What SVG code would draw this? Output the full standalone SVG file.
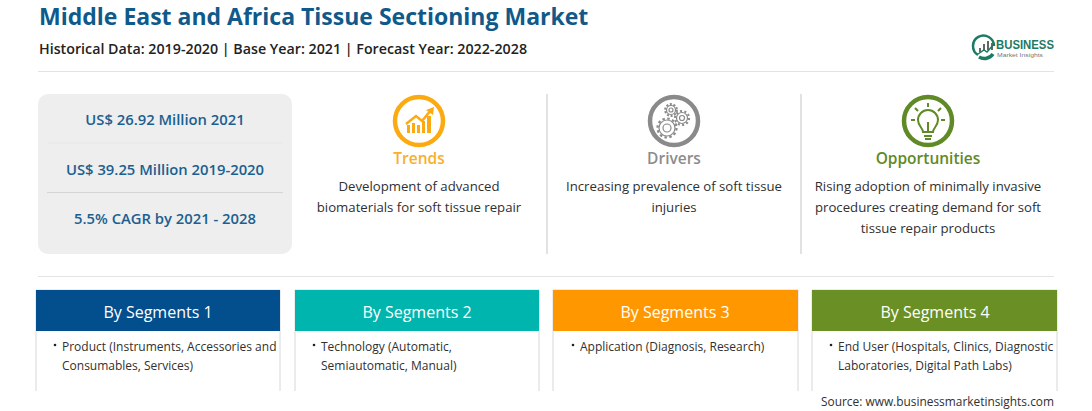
<svg xmlns="http://www.w3.org/2000/svg" width="1092" height="411" viewBox="0 0 1092 411">
<style>
text{font-family:"Open Sans","Noto Sans","Liberation Sans",sans-serif}
.kpi{font-size:14.8px;font-weight:600;fill:#1a6090;text-anchor:middle}
.body{font-size:13.2px;fill:#303030;text-anchor:middle}
.seg{font-size:16px;fill:#fff;text-anchor:middle}
.li{font-size:12px;fill:#303030}
.card{fill:#fff;stroke:#d4d8dc;stroke-width:1}
.rule{stroke:#e4e4e4;stroke-width:1}
.vr{stroke:#d8d8d8;stroke-width:1.5}
.h{font-size:15.5px;font-weight:600;text-anchor:middle}
.gear{fill:none;stroke:#8a8a8a;stroke-width:1.2}
.teeth{fill:none;stroke:#8a8a8a;stroke-width:2.2}
.logo{font-family:"Liberation Sans",Arial,sans-serif}
</style>
<rect width="1092" height="411" fill="#fff"/>
<g id="header">
<text x="39" y="25" font-size="23" font-weight="700" fill="#0f5a8a">Middle East and Africa Tissue Sectioning Market</text>
<text x="39" y="54" font-size="14.25" font-weight="600" fill="#222">Historical Data: 2019-2020 | Base Year: 2021 | Forecast Year: 2022-2028</text>
<line class="rule" x1="38" y1="71.5" x2="1054" y2="71.5"/>
</g>
<g id="logo">
<path d="M978 55a10.500 10.500 0 1 1 16-9" fill="none" stroke="#1d7a63" stroke-width="2.500"/>
<path d="M979 57a10.500 10.500 0 0 0 14-3" fill="none" stroke="#1d7a63" stroke-width="3.500"/>
<path d="M980 52v-4M984 51v-7M988 50v-9M992 50v-7" stroke="#666" stroke-width="2" fill="none"/>
<path d="M978 54l6-4 3 2 7-8" stroke="#1d7a63" stroke-width="1.500" fill="none"/>
<text class="logo" x="996" y="48.700" font-size="12.500" font-weight="700" fill="#1d7a63" textLength="58" lengthAdjust="spacingAndGlyphs">BUSINESS</text>
<text class="logo" x="997" y="56.900" font-size="6" fill="#777" textLength="46" lengthAdjust="spacingAndGlyphs">Market Insights</text>
</g>
<g id="kpis">
<rect x="38" y="94" width="254" height="160" rx="10" fill="#eeeeef"/>
<line x1="48" y1="143" x2="283" y2="143" stroke="#e6e6e6"/>
<line x1="47" y1="192.500" x2="283" y2="192.500" stroke="#d4d4d4"/>
<text class="kpi" x="165" y="125">US$ 26.92 Million 2021</text>
<text class="kpi" x="165" y="175">US$ 39.25 Million 2019-2020</text>
<text class="kpi" x="165" y="224">5.5% CAGR by 2021 - 2028</text>
</g>
<g id="trends">
<circle cx="419" cy="121" r="24" fill="none" stroke="#fbab11" stroke-width="4.500"/>
<path d="M407 133v-8h3v8zM412 133v-10h3v10zM417 133v-8h3v8zM422 133v-12h3v12zM427 133v-17h4v17z" fill="#fbab11"/>
<path d="M406 124l10-8 6 5 9-11" fill="none" stroke="#fbab11" stroke-width="2.500"/>
<path d="M426 110l8-3-1 8z" fill="#fbab11"/>
<text class="h" x="419" y="164" fill="#f9ae2c">Trends</text>
<text class="body" x="419" y="191">Development of advanced</text>
<text class="body" x="419" y="212">biomaterials for soft tissue repair</text>
</g>
<line class="vr" x1="547" y1="94" x2="547" y2="254"/>
<g id="drivers">
<circle cx="674" cy="121" r="24" fill="none" stroke="#8a8a8a" stroke-width="4.500"/>
<circle class="gear" cx="667" cy="128" r="8"/><circle class="gear" cx="667" cy="128" r="4"/>
<circle class="teeth" cx="667" cy="128" r="9.500" stroke-dasharray="2.500 2.470"/>
<circle class="gear" cx="671" cy="110" r="4.500"/><circle class="gear" cx="671" cy="110" r="2"/>
<circle class="teeth" cx="671" cy="110" r="5.800" stroke-dasharray="2 1.640"/>
<circle class="gear" cx="682" cy="118" r="5.500"/><circle class="gear" cx="682" cy="118" r="2.500"/>
<circle class="teeth" cx="682" cy="118" r="7" stroke-dasharray="2 2.400"/>
<text class="h" x="674" y="164" fill="#8c8c8c">Drivers</text>
<text class="body" x="674" y="191">Increasing prevalence of soft tissue</text>
<text class="body" x="674" y="212">injuries</text>
</g>
<line class="vr" x1="801" y1="94" x2="801" y2="254"/>
<g id="opportunities">
<circle cx="928" cy="121" r="24" fill="none" stroke="#5f8a26" stroke-width="4.500"/>
<path d="M923 132c0-4-5-6-5-12a10 10 0 0 1 20 0c0 6-5 8-5 12zM924 136h8M925 139h6M928 132v-10" fill="none" stroke="#5f8a26" stroke-width="2"/>
<path d="M928 103v4M915 108l3 3M941 108l-3 3M911 120h4M941 120h4" stroke="#5f8a26" stroke-width="2"/>
<text class="h" x="928" y="164" fill="#5f8a26">Opportunities</text>
<text class="body" x="928" y="191">Rising adoption of minimally invasive</text>
<text class="body" x="928" y="212">procedures creating demand for soft</text>
<text class="body" x="928" y="233">tissue repair products</text>
</g>
<line class="rule" x1="38" y1="276.500" x2="1054" y2="276.500"/>
<g id="segment1">
<path class="card" d="M36 391V290H280V391"/>
<rect x="36" y="290" width="244" height="41" fill="#034e8d"/>
<text class="seg" x="158" y="318">By Segments 1</text>
<circle cx="55" cy="345" r="1.300" fill="#222"/>
<text class="li" x="62" y="351">Product (Instruments, Accessories and</text>
<text class="li" x="62" y="370">Consumables, Services)</text>
</g>
<g id="segment2">
<path class="card" d="M295 391V290H539V391"/>
<rect x="295" y="290" width="244" height="41" fill="#00b5ad"/>
<text class="seg" x="417" y="318">By Segments 2</text>
<circle cx="314" cy="345" r="1.300" fill="#222"/>
<text class="li" x="321" y="351">Technology (Automatic,</text>
<text class="li" x="321" y="370">Semiautomatic, Manual)</text>
</g>
<g id="segment3">
<path class="card" d="M553 391V290H798V391"/>
<rect x="553" y="290" width="245" height="41" fill="#ff9800"/>
<text class="seg" x="675" y="318">By Segments 3</text>
<circle cx="573" cy="345" r="1.300" fill="#222"/>
<text class="li" x="580" y="351">Application (Diagnosis, Research)</text>
</g>
<g id="segment4">
<path class="card" d="M812 391V290H1057V391"/>
<rect x="812" y="290" width="245" height="41" fill="#6a8f24"/>
<text class="seg" x="935" y="318">By Segments 4</text>
<circle cx="831" cy="345" r="1.300" fill="#222"/>
<text class="li" x="838" y="351">End User (Hospitals, Clinics, Diagnostic</text>
<text class="li" x="838" y="370">Laboratories, Digital Path Labs)</text>
</g>
<text id="source" x="1054" y="406" font-size="11.900" fill="#303030" text-anchor="end">Source: www.businessmarketinsights.com</text>
</svg>
